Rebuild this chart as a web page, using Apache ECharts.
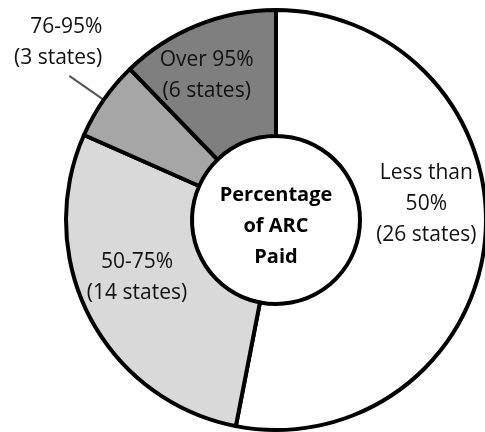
<!DOCTYPE html>
<html>
<head>
<meta charset="utf-8">
<script src="https://cdn.jsdelivr.net/npm/echarts@6/dist/echarts.min.js"></script>
<style>
html,body{margin:0;padding:0;background:#fff;}
#chart{width:485px;height:432px;}
</style>
</head>
<body>
<div id="chart"></div>
<script>
// Data
var categories = ['Less than\n50%', '50-75%', '76-95%', 'Over 95%'];
var stateCounts = [26, 14, 3, 6];
var stateLabels = ['(26 states)', '(14 states)', '(3 states)', '(6 states)'];
var centerTitle = 'Percentage\nof ARC\nPaid';

// Styles
var sliceColors = ['#ffffff', '#d9d9d9', '#a6a6a6', '#7f7f7f'];
var labelNudge = [[1, -30], [-6, -12], [38, -33], [-13, -5]];

var chart = echarts.init(document.getElementById('chart'), null, {renderer: 'canvas'});

var pieData = categories.map(function (c, i) {
  var item = {
    name: c + '\n' + stateLabels[i],
    value: stateCounts[i],
    itemStyle: {color: sliceColors[i]}
  };
  if (i === 2) {
    item.label = {position: 'outside', show: true};
    item.labelLine = {show: true, length: 42, length2: 0, lineStyle: {color: '#555555', width: 2}};
  }
  return item;
});

chart.setOption({
  animation: false,
  backgroundColor: '#ffffff',
  series: [
    {
      type: 'pie',
      center: [276, 220],
      radius: [84, 210],
      startAngle: 90,
      clockwise: true,
      avoidLabelOverlap: false,
      itemStyle: {borderColor: '#000000', borderWidth: 4},
      label: {
        show: true,
        position: 'inside',
        formatter: '{b}',
        fontFamily: 'Open Sans',
        fontSize: 21,
        lineHeight: 31,
        color: '#111111',
        overflow: 'none'
      },
      labelLine: {show: false},
      labelLayout: function (p) {
        var n = labelNudge[p.dataIndex];
        return {dx: n[0], dy: n[1]};
      },
      emphasis: {disabled: true},
      silent: true,
      data: pieData
    },
    {
      type: 'pie',
      center: [276, 220],
      radius: [0, 80],
      silent: true,
      emphasis: {disabled: true},
      itemStyle: {color: 'rgba(0,0,0,0)'},
      label: {
        show: true,
        position: 'center',
        formatter: '{b}',
        fontFamily: 'Open Sans',
        fontWeight: 'bold',
        fontSize: 20,
        lineHeight: 31,
        color: '#000000'
      },
      labelLayout: {dy: 6},
      labelLine: {show: false},
      data: [{name: centerTitle, value: 1}]
    }
  ]
});
</script>
</body>
</html>
